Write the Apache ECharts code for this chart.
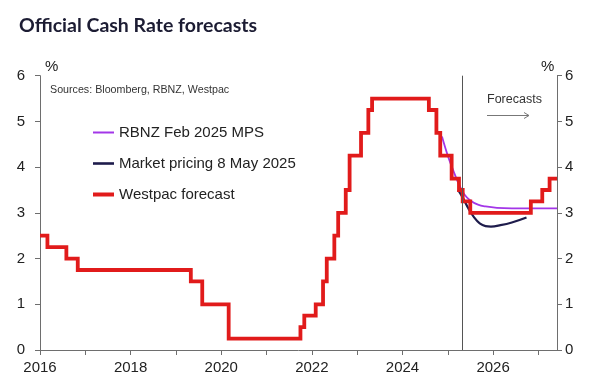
<!DOCTYPE html>
<html>
<head>
<meta charset="utf-8">
<script src="https://cdn.jsdelivr.net/npm/echarts@6/dist/echarts.min.js"></script>
<style>
html,body{margin:0;padding:0;background:#fff;}
#chart{width:600px;height:389px;}
</style>
</head>
<body>
<div id="chart"></div>
<script>
// Westpac forecast / actual OCR: date from which the rate applies
const westpacDates = ['2016-01-01','2016-03-01','2016-08-01','2016-11-01','2019-05-01','2019-08-01','2020-03-01','2021-10-01','2021-11-01','2022-02-01','2022-04-01','2022-05-01','2022-07-01','2022-08-01','2022-10-01','2022-11-01','2023-02-01','2023-04-01','2023-05-01','2024-08-01','2024-10-01','2024-11-01','2025-02-01','2025-04-01','2025-05-01','2025-07-01','2026-11-01','2027-02-01','2027-04-01','2027-05-31'];
const westpacValues = [2.5,2.25,2.0,1.75,1.5,1.0,0.25,0.5,0.75,1.0,1.5,2.0,2.5,3.0,3.5,4.25,4.75,5.25,5.5,5.25,4.75,4.25,3.75,3.5,3.25,3.0,3.25,3.5,3.75,3.75];

const rbnzDates = ['2024-11-15','2025-01-01','2025-02-15','2025-04-01','2025-05-15','2025-07-01','2025-09-01','2025-11-01','2026-02-01','2026-06-01','2027-05-31'];
const rbnzValues = [4.67,4.25,3.92,3.62,3.40,3.27,3.18,3.14,3.11,3.10,3.10];

const marketDates = ['2025-03-25','2025-05-08','2025-06-15','2025-08-01','2025-09-15','2025-11-01','2025-12-15','2026-03-01','2026-06-01','2026-09-27'];
const marketValues = [3.50,3.30,3.10,2.90,2.77,2.71,2.70,2.73,2.79,2.90];

const forecastStart = '2025-04-25';
const xMin = 2016, xMax = 2027.41;

function toYear(s){
  const d = new Date(s + 'T00:00:00Z');
  const y = d.getUTCFullYear();
  const start = Date.UTC(y,0,1), end = Date.UTC(y+1,0,1);
  return y + (d.getTime()-start)/(end-start);
}
function pairs(dates, vals){ return dates.map((d,i)=>[toYear(d), vals[i]]); }

const chart = echarts.init(document.getElementById('chart'));
const fontAx = 'Liberation Sans, Arial, sans-serif';
const axisCol = '#6e6e6e';
chart.setOption({
  animation:false,
  backgroundColor:'#fff',
  title:{text:'Official Cash Rate forecasts', left:14, top:11,
    textStyle:{fontFamily:'Lato', fontWeight:'bold', fontSize:19.5, color:'#1c1c33'}},
  grid:{left:40, right:43, top:75.7, bottom:39, containLabel:false},
  legend:{orient:'vertical', left:86, top:119, itemWidth:21, itemHeight:12, itemGap:14,
    itemStyle:{opacity:0},
    textStyle:{fontFamily:fontAx, fontSize:15, color:'#222', lineHeight:17},
    data:[
      {name:'RBNZ Feb 2025 MPS', lineStyle:{width:2}},
      {name:'Market pricing 8 May 2025', lineStyle:{width:2.6}},
      {name:'Westpac forecast', lineStyle:{width:4}}
    ]},
  xAxis:{type:'value', min:xMin, max:xMax, interval:1,
    axisLine:{lineStyle:{color:axisCol, width:1}},
    axisTick:{show:true, length:5, lineStyle:{color:axisCol}},
    splitLine:{show:false},
    axisLabel:{fontFamily:fontAx, fontSize:15, color:'#222', margin:10, showMaxLabel:false,
      formatter:v=> (Math.abs(v-Math.round(v))<1e-6 && Math.round(v)%2===0) ? String(Math.round(v)) : ''}},
  yAxis:[
    {type:'value', min:0, max:6, interval:1, position:'left',
     axisLine:{show:true, lineStyle:{color:axisCol}},
     axisTick:{show:true, length:5, lineStyle:{color:axisCol}},
     splitLine:{show:false},
     axisLabel:{fontFamily:fontAx, fontSize:15, color:'#222', margin:15}},
    {type:'value', min:0, max:6, interval:1, position:'right',
     axisLine:{show:true, lineStyle:{color:axisCol}},
     axisTick:{show:true, length:5, lineStyle:{color:axisCol}},
     splitLine:{show:false},
     axisLabel:{fontFamily:fontAx, fontSize:15, color:'#222', margin:8}}
  ],
  graphic:[
    {type:'text', left:45, top:59, style:{text:'%', fontFamily:fontAx, fontSize:15, fill:'#222'}},
    {type:'text', left:541, top:59, style:{text:'%', fontFamily:fontAx, fontSize:15, fill:'#222'}},
    {type:'text', left:50, top:85, style:{text:'Sources: Bloomberg, RBNZ, Westpac', fontFamily:fontAx, fontSize:10.7, fill:'#333'}},
    {type:'text', left:487, top:93, style:{text:'Forecasts', fontFamily:fontAx, fontSize:12.5, fill:'#333'}},
    {type:'polyline', shape:{points:[[487,115.5],[529,115.5]]}, style:{stroke:'#777', lineWidth:1}},
    {type:'polyline', shape:{points:[[524,112.5],[529,115.5],[524,118.5]]}, style:{stroke:'#777', lineWidth:1, fill:null}}
  ],
  series:[
    {name:'RBNZ Feb 2025 MPS', type:'line', smooth:0.4, symbol:'none', data:pairs(rbnzDates, rbnzValues),
     lineStyle:{color:'#a336e8', width:1.8}, itemStyle:{color:'#a336e8'}, z:3,
     markLine:{silent:true, symbol:'none', label:{show:false},
       lineStyle:{color:'#555', width:1, type:'solid'}, data:[{xAxis:toYear(forecastStart)}]}},
    {name:'Market pricing 8 May 2025', type:'line', smooth:0.4, symbol:'none', data:pairs(marketDates, marketValues),
     lineStyle:{color:'#1e1c4c', width:2.2}, itemStyle:{color:'#1e1c4c'}, z:3},
    {name:'Westpac forecast', type:'line', step:'end', symbol:'none', data:pairs(westpacDates, westpacValues),
     lineStyle:{color:'#e11b1b', width:3.8, join:'miter'}, itemStyle:{color:'#e11b1b'}, z:4}
  ]
});
</script>
</body>
</html>
